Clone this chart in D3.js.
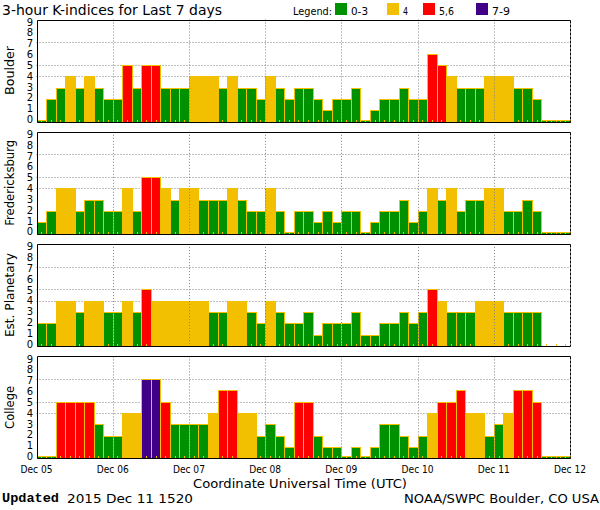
<!DOCTYPE html>
<html><head><meta charset="utf-8">
<script src="https://cdn.jsdelivr.net/npm/d3@7"></script>
<style>body{margin:0;background:#fff} svg{display:block}</style>
</head><body><svg id="c" width="600" height="510"></svg>
<script>
// ---------- data ----------
const stations = ["Boulder", "Fredericksburg", "Est. Planetary", "College"];
const dayLabels = ["Dec 05","Dec 06","Dec 07","Dec 08","Dec 09","Dec 10","Dec 11","Dec 12"];
const yTicks = [0,1,2,3,4,5,6,7,8,9];
const gridValues = [4,5,7];
const boulder = [
  0,2,3,4,3,4,3,2,  2,5,3,5,5,3,3,3,  4,4,4,3,4,3,3,2,  4,3,2,3,3,2,1,2,
  2,3,0,1,2,2,3,2,  2,6,5,4,3,3,3,4,  4,4,3,3,2,0,0,0];
const fredericksburg = [
  1,2,4,4,2,3,3,2,  2,4,2,5,5,4,3,4,  4,3,3,3,4,3,2,2,  4,2,0,2,2,1,2,1,
  2,2,0,1,2,2,3,1,  2,4,3,4,2,3,3,4,  4,2,2,3,2,0,0,0];
const planetary = [
  2,2,4,4,3,4,4,3,  3,4,3,5,4,4,4,4,  4,4,3,3,4,4,3,2,  4,3,2,2,3,1,2,2,
  2,3,1,1,2,2,3,2,  3,5,4,3,3,3,4,4,  4,3,3,3,3,null,null,null];
const college = [
  0,0,5,5,5,5,3,2,  2,4,4,7,7,5,3,3,  3,3,4,6,6,4,4,2,  3,2,1,5,5,2,1,1,
  0,1,0,1,3,3,2,1,  2,4,5,5,6,4,4,2,  3,4,6,6,5,0,0,0];
const seriesList = [boulder, fredericksburg, planetary, college];
const legendLabels = ["0-3", "4", "5,6", "7-9"];
const titleText = "3-hour K-indices for Last 7 days";
const xTitle = "Coordinate Universal Time (UTC)";
const updatedLabel = "Updated";
const updatedValue = "2015 Dec 11 1520";
const creditText = "NOAA/SWPC Boulder, CO USA";

// ---------- style ----------
const C = {green:"#009100", yellow:"#f2c000", red:"#ff0000", purple:"#400088", edge:"#f2c000", grid:"#808080"};
const legendColors = [C.green, C.yellow, C.red, C.purple];
const colorFor = v => v <= 3 ? C.green : v === 4 ? C.yellow : v <= 6 ? C.red : C.purple;
const FONT = "DejaVu Sans, Liberation Sans, sans-serif";

const svg = d3.select("#c");
const nBars = boulder.length;
const x = d3.scaleLinear().domain([0, nBars]).range([36.5, 570]);
const panelTops = [19.5, 131.8, 244.1, 356.4];
const panelH = 102;
const labelLens = [49, 86, 84, 43];

function txt(sel, s, opts) {
  const t = sel.append("text").text(s)
    .attr("font-family", opts.family || FONT)
    .attr("font-size", opts.size)
    .attr("x", opts.x).attr("y", opts.y)
    .attr("fill", "#000");
  if (opts.anchor) t.attr("text-anchor", opts.anchor);
  if (opts.len) t.attr("textLength", opts.len).attr("lengthAdjust", "spacingAndGlyphs");
  if (opts.weight) t.attr("font-weight", opts.weight);
  return t;
}

seriesList.forEach((data, k) => {
  const top = panelTops[k], bottom = top + panelH;
  const y = d3.scaleLinear().domain([0, 9]).range([bottom, top]);
  const yl = d3.scaleLinear().domain([0, 9]).range([bottom - 2, top + 2.5]);
  const g = svg.append("g");

  // horizontal grid
  g.selectAll("line.h").data(gridValues).join("line")
    .attr("x1", x(0)).attr("x2", x(nBars))
    .attr("y1", d => Math.round(y(d)) + 0.5).attr("y2", d => Math.round(y(d)) + 0.5)
    .attr("stroke", C.grid).attr("stroke-dasharray", "1,2");

  // bars
  const idx = d3.range(nBars).filter(i => data[i] !== null);
  g.selectAll("rect.bar").data(idx).join("rect")
    .attr("x", i => Math.round(x(i)) + 0.5)
    .attr("width", i => Math.round(x(i + 1)) - Math.round(x(i)))
    .attr("y", i => data[i] === 0 ? Math.round(y(0)) - 2 + 0.5 : Math.round(y(data[i])) + 0.5)
    .attr("height", i => data[i] === 0 ? 2 : Math.round(y(0)) - Math.round(y(data[i])))
    .attr("fill", i => colorFor(data[i]))
    .attr("stroke", C.edge).attr("stroke-width", 1);

  // small ticks at each 3-hour slot
  g.selectAll("line.t").data(d3.range(nBars)).join("line")
    .attr("x1", i => Math.round(x(i + 0.5)) + 0.5).attr("x2", i => Math.round(x(i + 0.5)) + 0.5)
    .attr("y1", Math.round(y(0))).attr("y2", Math.round(y(0)) - 2)
    .attr("stroke", C.edge);

  // vertical day grid (on top of bars)
  g.selectAll("line.v").data(d3.range(1, 7)).join("line")
    .attr("x1", d => Math.round(x(d * 8)) + 0.5).attr("x2", d => Math.round(x(d * 8)) + 0.5)
    .attr("y1", top).attr("y2", bottom)
    .attr("stroke", C.grid).attr("stroke-dasharray", "1,2");

  // frame
  const L = Math.round(x(0)) + 0.5, R = Math.round(x(nBars)) + 0.5;
  const T = Math.round(top) + 0.5, B = Math.round(bottom) + 0.5;
  g.append("path").attr("d", `M${R},${T}H${L}V${B}H${R}`).attr("fill", "none").attr("stroke", "#000");
  g.append("line").attr("x1", R).attr("x2", R).attr("y1", T).attr("y2", B)
    .attr("stroke", "#000").attr("stroke-dasharray", "3,1");

  // y tick labels
  g.selectAll("text.yt").data(yTicks).join("text")
    .attr("x", 33).attr("y", d => yl(d) + 3.6)
    .attr("text-anchor", "end").attr("font-family", FONT).attr("font-size", 10)
    .text(d => d);

  // station label
  txt(g, stations[k], {size: 13, x: 0, y: 0, anchor: "middle", len: labelLens[k]})
    .attr("transform", `translate(14,${(top + bottom) / 2}) rotate(-90)`);

  // x labels on bottom panel
  if (k === seriesList.length - 1) {
    g.selectAll("text.xl").data(dayLabels).join("text")
      .attr("x", (d, i) => x(i * 8)).attr("y", 473)
      .attr("text-anchor", "middle").attr("font-family", FONT).attr("font-size", 11)
      .attr("textLength", 32).attr("lengthAdjust", "spacingAndGlyphs")
      .text(d => d);
  }
});

// title
txt(svg, titleText, {size: 14, x: 2, y: 14.5, len: 220});

// legend
txt(svg, "Legend:", {size: 11, x: 293, y: 15, len: 39});
const legX = [335, 387, 423, 476];
const legLen = [17, 5, 15, 18];
legendLabels.forEach((l, i) => {
  svg.append("rect").attr("x", legX[i]).attr("y", 3).attr("width", 12).attr("height", 12)
    .attr("fill", legendColors[i]);
  txt(svg, l, {size: 11, x: legX[i] + 16, y: 15, len: legLen[i]});
});

// axis title & footer
txt(svg, xTitle, {size: 13, x: 300, y: 488, anchor: "middle", len: 214});
txt(svg, updatedLabel, {size: 13, x: 2, y: 502, len: 57, weight: "bold", family: "Liberation Mono, DejaVu Sans Mono, monospace"});
txt(svg, updatedValue, {size: 12, x: 67, y: 503, len: 126});
txt(svg, creditText, {size: 12, x: 404, y: 503, len: 195});
</script></body></html>
